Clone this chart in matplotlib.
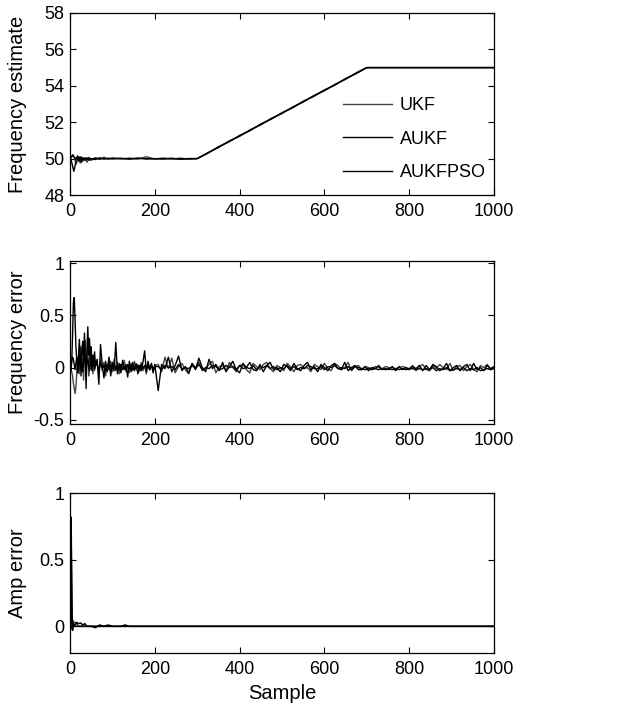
import matplotlib
matplotlib.use("Agg")
import matplotlib.pyplot as plt
import numpy as np

plt.rcParams['font.family'] = ['Liberation Sans Narrow', 'Liberation Sans', 'DejaVu Sans']

# --- frequency estimate (top panel) ---
est_x = [0, 3, 6, 9, 12, 15, 18, 21, 24, 27, 30, 35, 40, 45, 50, 60, 70, 80, 90, 100,
         120, 140, 160, 180, 200, 220, 240, 260, 280, 300,
         325, 350, 375, 400, 425, 450, 475, 500, 525, 550, 575, 600, 625, 650, 675, 700, 1000]
est_ukf = [50.0, 50.1, 50.2, 50.15, 49.9, 49.7, 49.95, 50.1, 49.75, 50.1,
           49.85, 50.05, 49.8, 50.08, 49.9, 50.05, 49.95, 50.08, 49.97, 50.04,
           49.98, 50.03, 49.97, 50.1, 49.98, 50.02, 49.97, 50.03, 49.96, 50.0,
           50.33, 50.60, 50.97, 51.22, 51.59, 51.85, 52.22, 52.47, 52.84, 53.10,
           53.47, 53.72, 54.09, 54.35, 54.72, 55.0, 55.0]
est_aukf = [50.0, 49.9, 49.6, 49.3, 49.6, 50.0, 50.15, 49.85, 50.1, 49.8,
            50.05, 49.9, 50.05, 49.9, 50.0, 49.95, 50.05, 49.97, 50.02, 49.98,
            50.02, 49.97, 50.03, 49.98, 50.0, 49.97, 50.02, 49.96, 50.0, 50.0,
            50.29, 50.65, 50.92, 51.27, 51.54, 51.90, 52.17, 52.52, 52.79, 53.15,
            53.42, 53.77, 54.04, 54.40, 54.67, 55.0, 55.0]
est_pso = [50.0, 50.05, 50.2, 50.1, 50.0, 50.05, 49.95, 50.05, 49.95, 50.05,
           49.97, 50.03, 49.96, 50.02, 49.98, 50.02, 49.98, 50.01, 49.99, 50.01,
           50.0, 49.99, 50.01, 50.0, 49.99, 50.01, 50.0, 49.99, 50.0, 50.0,
           50.31, 50.63, 50.94, 51.25, 51.56, 51.88, 52.19, 52.5, 52.81, 53.13,
           53.44, 53.75, 54.06, 54.38, 54.69, 55.0, 55.0]

# --- frequency error (middle panel), values in hundredths ---
err_x = np.concatenate([np.arange(0, 61, 2), np.arange(64, 201, 4), np.arange(208, 1001, 8)])
err_ukf_c = [0, -2, -4, -8, -15, -20, -25, -18, -5, 8, 2, -6, 14, 20, -4, 8, -12, 15, 26, -3,
             10, 22, -8, 5, 14, -2, 10, -6, 8, -3, 6,
             4, -6, 8, -3, 5, -8, 3, -2, 6, -4, 8, -3, 5, -6, 3, -2, 7, -4, 2, -5,
             4, -3, 6, -2, 3, -4, 5, -3, 2, -6, 4, -2, 3, -4, 2,
             3, -4, 10, -1, 9, -5, 1, 4, -2, -6, 4, 0, 5, -3, -1, 3, 6, -5, 1, 2,
             -3, 5, 0, -4, 2, 3, -2, -5, 4, 1, -2, 3, 5, -1, -4, 2, 0, -3, 4, 1,
             -4, 2, 3, -1, 0, -4, 3, 1, -2, 4, -1, -3, 4, 2, -2, 0, 5, -3, 1, 2,
             -2, 1, 0, -1, 1, 0, -1, 1, 0, 0, -1, 0, 1, 0, -1, 2, -3, 1, 3, -2,
             -3, 2, -1, 3, 0, -2, 4, -3, 1, 2, -3, 1, 3, -2, -4, 2, 0, 3, -2, 1]
err_aukf_c = [0, -3, 5, 30, 62, 67, 45, 20, 8, -5, 10, 27, 12, -8, 15, 25, 5, 33, 10, -20,
              18, 39, 12, 28, 5, 20, -3, 12, 4, 15, 2,
              8, -16, 22, 3, -10, 6, -4, 10, -8, 5, -3, 24, -6, 4, -5, 7, -2, 3, -9, 6,
              -4, 5, -3, 4, -6, 2, -3, 5, 16, -4, 6, -2, 4, -5, 3,
              -22, 3, -1, 10, -4, 2, 11, -3, 1, -5, 4, -2, 9, 0, -4, 8, -1, 3, -3, 5,
              -4, 1, 6, -2, -5, 4, 0, 5, -2, -3, 3, -4, 2, 5, -2, 0, -4, 3, 1, -3,
              4, -1, -3, 2, 5, -2, 1, -4, 3, 0, -3, 2, 4, -1, -2, 5, -3, 0, 2, -2,
              -2, 1, -3, 0, -1, 2, -2, -1, -2, 1, -3, 1, -2, 0, -2, 1, -1, 2, -3, 2,
              -2, 3, 1, -3, -1, 4, -3, 0, 2, -3, 1, 3, -3, 4, -2, 0, -3, 2, -1, 1]
err_pso_c = [0, 2, 6, 10, 8, 3, -2, 4, 10, 6, -3, 5, 12, 8, 2, -4, 6, 10, 3, -2,
             5, 8, 2, -3, 4, 6, -2, 3, 5, -1, 2,
             3, -2, 4, -1, 2, -3, 3, -2, 2, -1, 3, -2, 2, -1, 3, -2, 1, -2, 3, -1,
             2, -2, 1, -1, 2, -2, 3, -1, 2, -1, 1, -2, 2, -1, 1,
             1, -2, 2, 0, 1, -2, 3, -1, 0, -1, 2, -1, 3, -2, 0, -1, 2, 1, -2, -1,
             2, 0, 1, -2, 2, -1, 0, -1, 2, -2, 1, 0, 2, -1, 1, -2, 0, -1, 2, -1,
             1, -2, 0, -1, 2, 1, -1, -1, 1, -2, 1, 0, 2, -1, 0, -1, 1, -2, 1, 0,
             -1, -2, -1, -2, -1, -2, -1, -2, -1, -2, -1, -2, -1, -2, -1, -1, -2, -1, -2, -1,
             -2, 0, -3, -1, -2, 0, -3, -2, -1, -2, 0, -3, -1, -2, 0, -3, -2, -1, -2, -1]

# --- amplitude error (bottom panel) ---
amp_x = [0, 1, 2, 3, 4, 5, 6, 8, 10, 15, 20, 25, 30, 35, 40, 50, 60, 70, 80, 90,
         100, 110, 120, 130, 140, 1000]
amp_ukf = [0, 0.45, 0.80, 0.70, 0.30, 0.10, 0.02, 0.04, 0.03, 0.02, 0.0, 0.0, 0.0, 0.0,
           0.0, 0.0, 0.0, 0.0, 0.0, 0.0, 0.0, 0.0, 0.0, 0.0, 0.0, 0.0]
amp_aukf = [0, 0.50, 0.82, 0.60, 0.20, 0.05, -0.03, 0.02, 0.0, 0.03, 0.02, 0.025, 0.01, 0.02,
            0.0, 0.0, -0.01, 0.01, 0.0, 0.01, 0.0, 0.0, 0.0, 0.01, 0.0, 0.0]
amp_pso = [0, 0.30, 0.78, 0.50, 0.10, -0.02, 0.0, 0.0, 0.0, 0.0, 0.0, 0.0, 0.0, 0.0,
           0.0, 0.0, 0.0, 0.0, 0.0, 0.0, 0.0, 0.0, 0.0, 0.0, 0.0, 0.0]

labels = ['UKF', 'AUKF', 'AUKFPSO']
colors = ['#444444', 'black', 'black']

fig = plt.figure(figsize=(6.21, 7.08), dpi=100)
W = 424 / 621
ax1 = fig.add_axes([70 / 621, 1 - 195 / 708, W, 182 / 708])
ax2 = fig.add_axes([70 / 621, 1 - 424 / 708, W, 163 / 708])
ax3 = fig.add_axes([70 / 621, 1 - 653 / 708, W, 160 / 708])

for ys, lab, c in zip([est_ukf, est_aukf, est_pso], labels, colors):
    ax1.plot(est_x, ys, color=c, lw=1.0, label=lab)
for ys, c in zip([err_ukf_c, err_aukf_c, err_pso_c], colors):
    ax2.plot(err_x, np.array(ys) / 100, color=c, lw=1.0)
for ys, c in zip([amp_ukf, amp_aukf, amp_pso], colors):
    ax3.plot(amp_x, ys, color=c, lw=1.1)

ax1.set_ylim(48, 58)
ax1.set_yticks([48, 50, 52, 54, 56, 58])
ax2.set_ylim(-0.54, 1.02)
ax2.set_yticks([-0.5, 0, 0.5, 1])
ax2.set_yticklabels(['-0.5', '0', '0.5', '1'])
ax3.set_ylim(-0.2, 1)
ax3.set_yticks([0, 0.5, 1])
ax3.set_yticklabels(['0', '0.5', '1'])

for ax in (ax1, ax2, ax3):
    ax.set_xlim(0, 1000)
    ax.set_xticks([0, 200, 400, 600, 800, 1000])
    ax.tick_params(direction='in', top=True, right=True, length=4, labelsize=13, pad=4)
    ax.tick_params(axis='x', pad=6)
    for s in ax.spines.values():
        s.set_linewidth(0.9)
    ax.yaxis.set_label_coords(-0.101, 0.5)

ylab_font = dict(fontsize=14.5, family=['Liberation Sans', 'DejaVu Sans'])
ax1.set_ylabel('Frequency estimate', **ylab_font)
ax2.set_ylabel('Frequency error', **ylab_font)
ax3.set_ylabel('Amp error', **ylab_font)
ax3.set_xlabel('Sample', fontsize=14.5, labelpad=4)

ax1.legend(loc='upper left', bbox_to_anchor=(0.644, 0.536), frameon=False,
           handlelength=2.7, handletextpad=0.45, labelspacing=0.9, borderpad=0,
           borderaxespad=0, prop={'family': ['Liberation Sans', 'DejaVu Sans'], 'size': 13})

fig.savefig('out.png', dpi=100)
